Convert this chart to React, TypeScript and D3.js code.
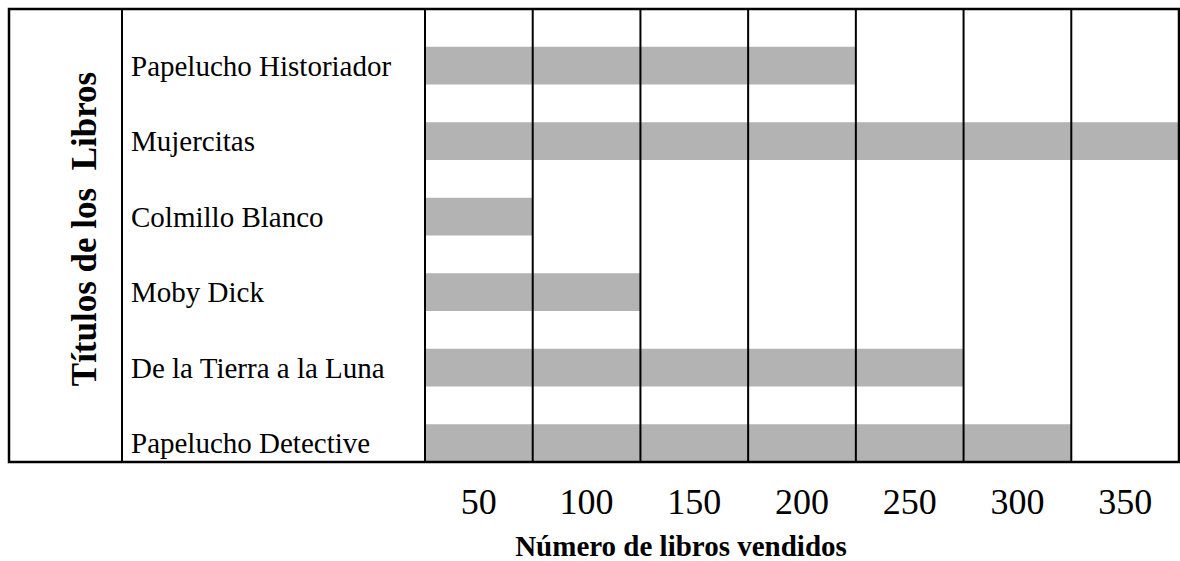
import React from 'react';
import * as d3 from 'd3';

// book titles, top to bottom
const titles = [
  'Papelucho Historiador',
  'Mujercitas',
  'Colmillo Blanco',
  'Moby Dick',
  'De la Tierra a la Luna',
  'Papelucho Detective',
];
// books sold per title
const sold = [200, 350, 50, 100, 250, 300];
// column labels (each column is 50 books)
const tickValues = [50, 100, 150, 200, 250, 300, 350];

const width = 1180;
const height = 561;
const frame = { left: 9, top: 9, right: 1179, bottom: 462 };
const labelCol = 122;
const plotLeft = 425;
const serif = '"Liberation Serif", "Times New Roman", Times, serif';

const App: React.FC = () => {
  const x = d3.scaleLinear().domain([0, 350]).range([plotLeft, frame.right]);
  const y = d3.scaleBand<string>().domain(titles).range([frame.top, frame.bottom]);
  const bw = y.bandwidth();

  // grid line positions: start of plot plus every tick except the last (frame edge)
  const gridLines = [0, ...tickValues.slice(0, -1)];

  return (
    <svg
      width={width}
      height={height}
      style={{ position: 'absolute', left: 0, top: 0, background: '#fff' }}
    >
      {/* bars */}
      <g fill="#b3b3b3">
        {titles.map((t, i) => (
          <rect
            key={t}
            x={x(0)}
            y={(y(t) as number) + bw / 2}
            width={x(sold[i]) - x(0)}
            height={bw / 2}
          />
        ))}
      </g>

      {/* vertical grid lines */}
      <g stroke="#000" strokeWidth={2}>
        {gridLines.map(v => (
          <line key={v} x1={x(v)} x2={x(v)} y1={frame.top} y2={frame.bottom} />
        ))}
        <line x1={labelCol} x2={labelCol} y1={frame.top} y2={frame.bottom} />
      </g>

      {/* frame */}
      <rect
        x={frame.left}
        y={frame.top}
        width={frame.right - frame.left}
        height={frame.bottom - frame.top}
        fill="none"
        stroke="#000"
        strokeWidth={2.5}
      />

      {/* row labels */}
      <g fontFamily={serif} fontSize={29} fill="#000">
        {titles.map(t => (
          <text key={t} x={131} y={(y(t) as number) + bw * 0.75 + 10}>
            {t}
          </text>
        ))}
      </g>

      {/* column labels */}
      <g fontFamily={serif} fontSize={36} fill="#000" textAnchor="middle">
        {tickValues.map(v => (
          <text key={v} x={(x(v - 50) + x(v)) / 2} y={514}>
            {v}
          </text>
        ))}
      </g>

      {/* axis titles */}
      <text
        x={681}
        y={556}
        fontFamily={serif}
        fontSize={29}
        fontWeight="bold"
        textAnchor="middle"
      >
        Número de libros vendidos
      </text>
      <text
        transform="translate(96,229) rotate(-90)"
        fontFamily={serif}
        fontSize={35}
        fontWeight="bold"
        textAnchor="middle"
        style={{ whiteSpace: 'pre' }}
      >
        {'Títulos de los  Libros'}
      </text>
    </svg>
  );
};

export default App;
